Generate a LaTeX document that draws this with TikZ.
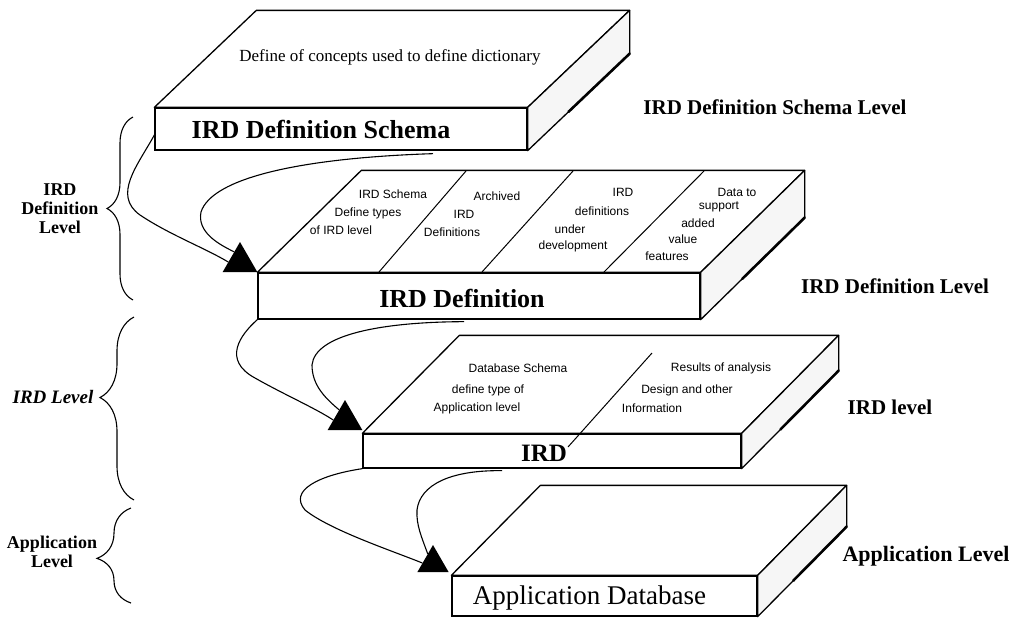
\documentclass[tikz,border=0pt]{standalone}
\usepackage{fontspec}
\setmainfont{Liberation Serif}
\newfontfamily\notefont{Liberation Sans}
\usetikzlibrary{positioning, calc, shapes.geometric, decorations.pathreplacing}

\begin{document}
\begin{tikzpicture}[
    x=1pt, y=-1pt,
    front/.style={rectangle, draw, line width=1.3pt, fill=white, inner sep=0pt},
    face/.style={draw, line width=1.3pt, fill=white, line join=round},
    side/.style={face, fill=gray!7},
    shadow edge/.style={line width=2.6pt, line cap=round},
    divider/.style={line width=1pt},
    link/.style={line width=1.1pt},
    arrowhead/.style={regular polygon, regular polygon sides=3, fill=black, inner sep=0pt, minimum size=40pt},
    note/.style={font=\notefont\fontsize{12}{14}\selectfont},
    title/.style={font=\bfseries\fontsize{26}{30}\selectfont},
    level/.style={font=\bfseries\fontsize{21}{24}\selectfont},
    tier/.style={font=\bfseries\fontsize{18}{19}\selectfont, align=center},
    tierbrace/.style={decorate, line width=1.1pt}
    ]
    \useasboundingbox (0,0) rectangle (1015,619);

    % Front faces of the slabs
    \node[front, minimum width=372pt, minimum height=42pt] (schema) at (341,129) {};
    \node[front, minimum width=442pt, minimum height=46pt] (def) at (479,296) {};
    \node[front, minimum width=378pt, minimum height=34pt] (ird) at (552,451) {};
    \node[front, minimum width=305pt, minimum height=40pt] (app) at (604.5,596) {};

    % Top and side faces
    \foreach \s/\dx/\dy in {schema/102/97, def/104/102, ird/97/98, app/89/90} {
        \draw[face] (\s.north west) -- ++(\dx,-\dy) -- ($(\s.north east)+(\dx,-\dy)$) -- (\s.north east) -- cycle;
        \draw[side] (\s.north east) -- ++(\dx,-\dy) -- ($(\s.south east)+(\dx,-\dy)$) -- (\s.south east) -- cycle;
        \draw[shadow edge] ($(\s.south east)+0.4*(\dx,-\dy)$) -- ($(\s.south east)+(\dx,-\dy)$);
    }

    % Slab titles
    \node[title] (schema title) at ([xshift=-20pt]schema.center) {IRD Definition Schema};
    \node[title] (def title) at ([xshift=-17pt, yshift=-2pt]def.center) {IRD Definition};
    \node[title, font=\bfseries\fontsize{25}{28}\selectfont] (ird title) at ([xshift=-8pt, yshift=-2pt]ird.center) {IRD};
    \node[font=\fontsize{27}{30}\selectfont] (app title) at ([xshift=-15pt, yshift=-2pt]app.center) {Application Database};

    % Top face of the schema slab
    \node[font=\fontsize{17}{20}\selectfont] (schema top) at (390,57) {Define of concepts used to define dictionary};

    % Dividers on the top faces
    \draw[divider] (379,272) -- (466,171);
    \draw[divider] (482,272) -- (573,171);
    \draw[divider] (604,272) -- (704,171);
    \draw[divider] (652,353) -- (568,447);

    % Notes on the IRD Definition slab
    \foreach \t/\x/\y [count=\i] in {IRD Schema/393/194, Define types/368/213, of IRD level/341/230,
        Archived/497/196, IRD/464/214, Definitions/452/232,
        IRD/623/192, definitions/602/211, under/570/229, development/573/246,
        Data to/737/192, support/719/207, added/698/223, value/683/239, features/667/256}
        \node[note] (d\i) at (\x,\y) {\t};

    % Notes on the IRD slab
    \foreach \t/\x/\y [count=\i] in {Database Schema/518/368, define type of/488/390, Application level/477/408,
        Results of analysis/721/368, Design and other/687/390, Information/652/408}
        \node[note] (r\i) at (\x,\y) {\t};

    % Arrow heads
    \node[arrowhead] (tri1) at (240,262) {};
    \node[arrowhead] (tri2) at (345,420) {};
    \node[arrowhead, minimum size=36pt] (tri3) at (433,563) {};

    % Links between the levels
    \draw[link] ([yshift=-6pt]schema.west) .. controls (138,165) and (112,195) .. (140,215)
        .. controls (170,235) and (205,248) .. (tri1.west);
    \draw[link] ([xshift=92pt, yshift=-3pt]schema.south) .. controls (300,158) and (212,178) .. (201,212)
        .. controls (197,232) and (218,244) .. (tri1.120);
    \draw[link] (def.south west) .. controls (240,335) and (222,360) .. (255,378)
        .. controls (285,395) and (315,408) .. (tri2.west);
    \draw[link] ([xshift=-15pt, yshift=-2pt]def.south) .. controls (380,322) and (315,335) .. (312,365)
        .. controls (312,385) and (325,398) .. (tri2.120);
    \draw[link] (ird.south west) .. controls (320,475) and (288,490) .. (305,510)
        .. controls (330,530) and (390,550) .. (tri3.west);
    \draw[link] ([xshift=-50pt, yshift=-2pt]ird.south) .. controls (450,470) and (420,485) .. (417,510)
        .. controls (416,525) and (422,538) .. (tri3.120);

    % Level names on the right
    \node[level] (schema level) at (775,107) {IRD Definition Schema Level};
    \node[level] (def level) at (895,286) {IRD Definition Level};
    \node[level] (ird level) at (890,407) {IRD level};
    \node[level, font=\bfseries\fontsize{22}{24}\selectfont] (app level) at (926,556) {Application Level};

    % Braces and tiers on the left
    \coordinate (b1 low) at (133,300);
    \coordinate (b1 high) at (133,117);
    \coordinate (b2 low) at (134,500);
    \coordinate (b2 high) at (134,317);
    \coordinate (b3 low) at (131,603);
    \coordinate (b3 high) at (131,508);
    \draw[tierbrace, decoration={brace, amplitude=26pt}] (b1 low) -- (b1 high);
    \draw[tierbrace, decoration={brace, amplitude=34pt, aspect=0.56}] (b2 low) -- (b2 high);
    \draw[tierbrace, decoration={brace, amplitude=34pt, aspect=0.47}] (b3 low) -- (b3 high);
    \node[tier] (def tier) at (60,209) {IRD\\Definition\\Level};
    \node[tier, font=\bfseries\itshape\fontsize{19}{20}\selectfont] (ird tier) at (53,397) {IRD Level};
    \node[tier] (app tier) at (52,552) {Application\\Level};

\end{tikzpicture}
\end{document}
